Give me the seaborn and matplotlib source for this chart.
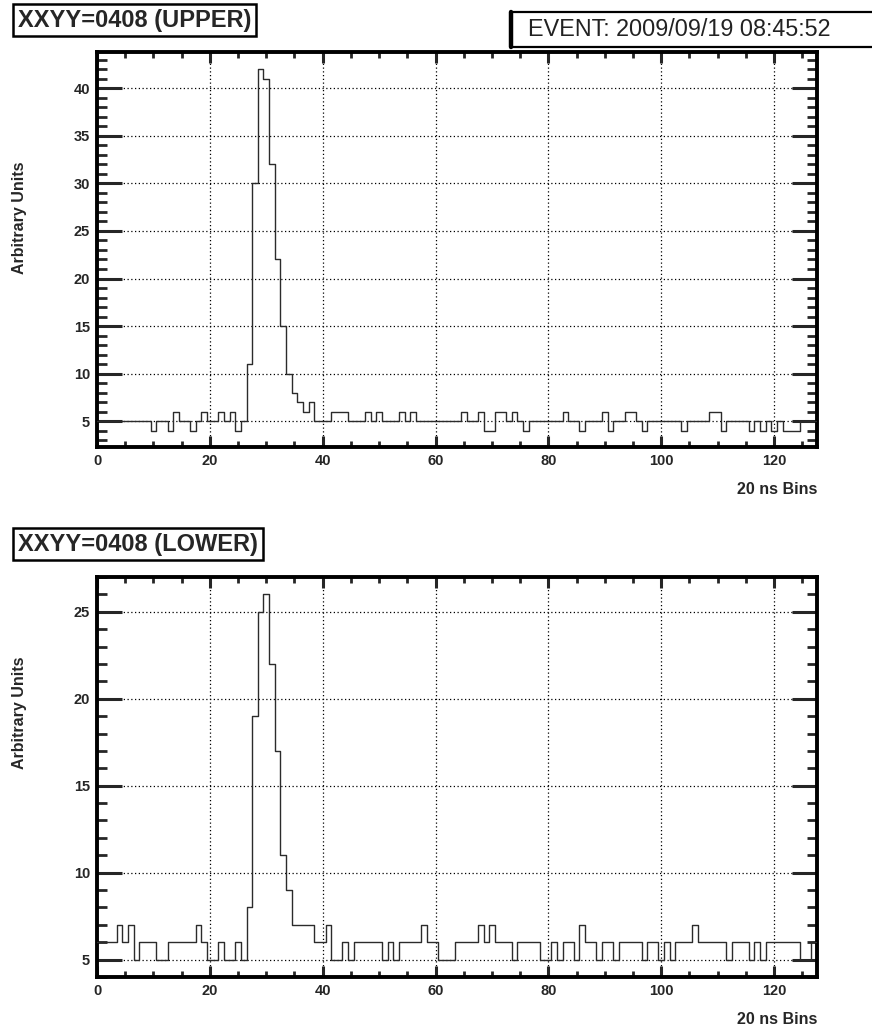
"""ROOT-style timing histograms for the upper and lower PMT of one detector."""

import numpy as np
import matplotlib
matplotlib.use("Agg")
import matplotlib.pyplot as plt
import seaborn as sns
from matplotlib.lines import Line2D
from matplotlib.patches import Rectangle
from matplotlib.ticker import MultipleLocator


# 20 ns bins, one count per bin
bins = np.arange(128)

upper_counts = [
    5, 5, 5, 5, 5, 5, 5, 5, 5, 5, 4, 5, 5, 4, 6, 5,
    5, 4, 5, 6, 5, 5, 6, 5, 6, 4, 5, 11, 30, 42, 41, 32,
    22, 15, 10, 8, 7, 6, 7, 5, 5, 5, 6, 6, 6, 5, 5, 5,
    6, 5, 6, 5, 5, 5, 6, 5, 6, 5, 5, 5, 5, 5, 5, 5,
    5, 6, 5, 5, 6, 4, 4, 6, 6, 5, 6, 5, 4, 5, 5, 5,
    5, 5, 5, 6, 5, 5, 4, 5, 5, 5, 6, 4, 5, 5, 6, 6,
    5, 4, 5, 5, 5, 5, 5, 5, 4, 5, 5, 5, 5, 6, 6, 4,
    5, 5, 5, 5, 4, 5, 4, 5, 4, 5, 4, 4, 4, 5, 5, 5,
]

lower_counts = [
    6, 6, 6, 6, 7, 6, 7, 5, 6, 6, 6, 5, 5, 6, 6, 6,
    6, 6, 7, 6, 5, 5, 6, 5, 5, 6, 5, 8, 19, 25, 26, 22,
    17, 11, 9, 7, 7, 7, 7, 6, 6, 7, 5, 5, 6, 5, 6, 6,
    6, 6, 6, 5, 6, 5, 6, 6, 6, 6, 7, 6, 6, 5, 5, 5,
    6, 6, 6, 6, 7, 6, 7, 6, 6, 6, 5, 6, 6, 6, 6, 5,
    5, 6, 5, 6, 6, 5, 7, 6, 6, 5, 6, 6, 5, 6, 6, 6,
    6, 5, 6, 6, 5, 6, 5, 6, 6, 6, 7, 6, 6, 6, 6, 6,
    5, 6, 6, 6, 5, 6, 5, 6, 6, 6, 6, 6, 6, 5, 5, 6,
]

upper_title = "XXYY=0408 (UPPER)"
lower_title = "XXYY=0408 (LOWER)"
event_label = "EVENT: 2009/09/19 08:45:52"
x_label = "20 ns Bins"
y_label = "Arbitrary Units"

sns.set_theme(style="white")
plt.rcParams["font.family"] = ["Liberation Sans", "DejaVu Sans"]

W, H = 872, 1030
fig = plt.figure(figsize=(W / 100, H / 100), dpi=100)


def px_axes(left, top, right, bottom):
    return fig.add_axes([left / W, 1 - bottom / H, (right - left) / W, (bottom - top) / H])


def draw_panel(ax, counts, ylim, ylabel_y):
    sns.histplot(
        x=bins, weights=counts, binwidth=1, binrange=(-0.5, 127.5),
        element="step", fill=False, color="#2b2b2b", linewidth=1.0,
        ax=ax, zorder=3,
    )
    ax.set_xlim(0, 127.6)
    ax.set_ylim(*ylim)

    ax.xaxis.set_major_locator(MultipleLocator(20))
    ax.xaxis.set_minor_locator(MultipleLocator(5))
    ax.yaxis.set_major_locator(MultipleLocator(5))
    ax.yaxis.set_minor_locator(MultipleLocator(1))

    ax.grid(True, which="major", color="black", linestyle=(0, (1.0, 2.0)), linewidth=0.9)
    ax.set_axisbelow(True)

    ax.tick_params(axis="x", which="major", direction="in", length=8, width=2.2,
                   top=True, bottom=True, labelsize=10.5, pad=5)
    ax.tick_params(axis="x", which="minor", direction="in", length=4, width=2,
                   top=True, bottom=True)
    ax.tick_params(axis="y", which="major", direction="in", length=18, width=2.2,
                   left=True, right=True, labelsize=10.5, pad=5)
    ax.tick_params(axis="y", which="minor", direction="in", length=7, width=2,
                   left=True, right=True)
    for lab in ax.get_xticklabels() + ax.get_yticklabels():
        lab.set_fontweight("bold")

    for side in ax.spines.values():
        side.set_linewidth(2.8)
        side.set_color("black")

    ax.set_xlabel(x_label, loc="right", fontsize=11.5, fontweight="bold", labelpad=10)
    ax.set_ylabel(y_label, fontsize=11.5, fontweight="bold")
    ax.yaxis.set_label_coords(-0.097, ylabel_y)


ax_up = px_axes(97, 52, 817, 447)
draw_panel(ax_up, upper_counts, (2.3, 43.8), 0.58)

ax_lo = px_axes(97, 577, 817, 977)
draw_panel(ax_lo, lower_counts, (4.0, 27.0), 0.66)

box = dict(boxstyle="square,pad=0.2", fc="white", ec="black", lw=1.8)
fig.text(18 / W, 1 - 20 / H, upper_title, fontsize=17, fontweight="bold",
         va="center", ha="left", bbox=box)
fig.text(18 / W, 1 - 544 / H, lower_title, fontsize=17, fontweight="bold",
         va="center", ha="left", bbox=box)

# event stamp box, running off the right edge, heavy left border
fig.patches.append(Rectangle((511 / W, 1 - 47 / H), 400 / W, 35 / H, transform=fig.transFigure,
                             fc="white", ec="black", lw=1.6, zorder=1))
fig.lines.append(Line2D([511 / W, 511 / W], [1 - 47 / H, 1 - 12 / H], transform=fig.transFigure,
                        color="black", lw=3.2, zorder=2))
fig.text(528 / W, 1 - 30 / H, event_label, fontsize=16.8, va="center", ha="left", color="#222222")

fig.savefig("out.png", dpi=100, facecolor="white")
plt.close(fig)
